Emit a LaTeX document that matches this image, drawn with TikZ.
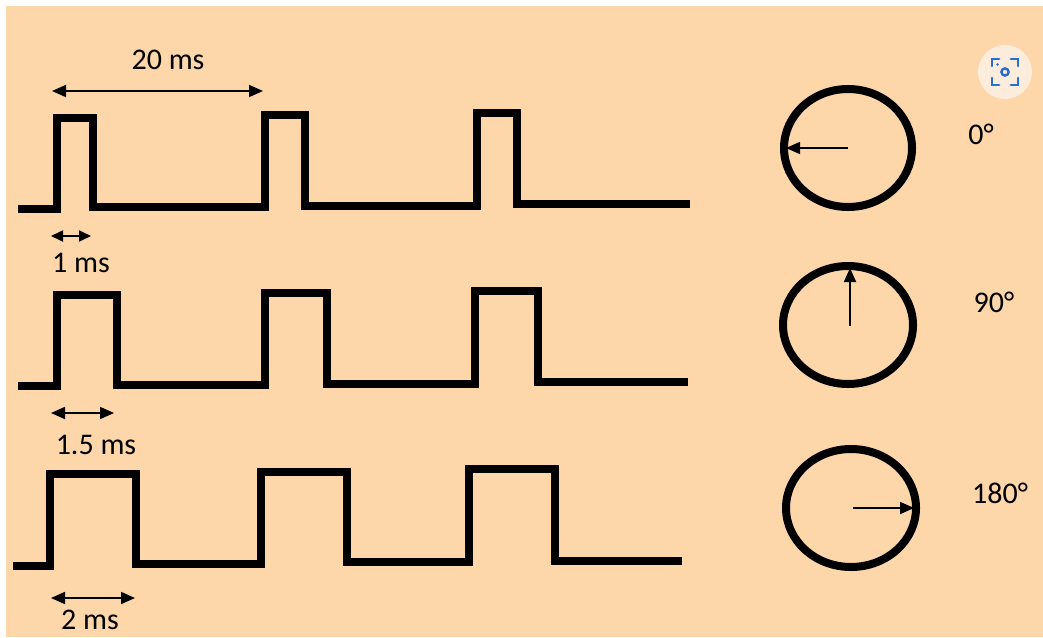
\documentclass[tikz,border=0pt]{standalone}
\usepackage{fontspec}
\setmainfont{Carlito}
\usetikzlibrary{arrows.meta}
\definecolor{peach}{RGB}{253,214,170}
\definecolor{lensbg}{RGB}{252,236,220}
\definecolor{lensblue}{RGB}{40,110,210}
\begin{document}
\begin{tikzpicture}[x=1pt,y=-1pt,
  wave/.style={line width=7.5pt,line join=miter,line cap=butt},
  dim/.style={line width=1.8pt,{Triangle[length=14pt,width=12pt]}-{Triangle[length=14pt,width=12pt]}},
  dimsmall/.style={line width=1.8pt,{Triangle[length=12pt,width=11pt]}-{Triangle[length=12pt,width=11pt]}},
  dial/.style={line width=8pt},
  pointer/.style={line width=1.8pt,-{Triangle[length=14pt,width=12pt]}},
  lbl/.style={font=\fontsize{30}{34}\selectfont,inner sep=0pt}]
\useasboundingbox (0,0) rectangle (1043,637);
\fill[white] (0,0) rectangle (1043,637);
\fill[peach] (6,6) rectangle (1043,637);

% row 1
\draw[wave] (18,209) -- (57,209) -- (57,118) -- (93,118) -- (93,207) -- (265,207) -- (265,115) -- (305,115) -- (305,206) -- (477,206) -- (477,113) -- (517,113) -- (517,204) -- (690,204);
% row 2
\draw[wave] (18,386) -- (57,386) -- (57,295) -- (117,295) -- (117,385) -- (265,385) -- (265,293) -- (327,293) -- (327,384) -- (475,384) -- (475,291) -- (538,291) -- (538,382) -- (688,382);
% row 3
\draw[wave] (13,566) -- (50,566) -- (50,474) -- (136,474) -- (136,564) -- (261,564) -- (261,472) -- (347,472) -- (347,562) -- (469,562) -- (469,469) -- (555,469) -- (555,561) -- (682,561);

% dimension arrows
\coordinate (p1a) at (52,91); \coordinate (p1b) at (263,91);
\draw[dim] (p1a) -- (p1b);
\node[lbl] (t20) at (168,60) {20 ms};

\coordinate (w1a) at (51,236); \coordinate (w1b) at (91,236);
\draw[dimsmall] (w1a) -- (w1b);
\node[lbl] (t1) at (81,263) {1 ms};

\coordinate (w2a) at (51,413); \coordinate (w2b) at (114,413);
\draw[dim] (w2a) -- (w2b);
\node[lbl] (t15) at (96,445) {1.5 ms};

\coordinate (w3a) at (51,598); \coordinate (w3b) at (135,598);
\draw[dim] (w3a) -- (w3b);
\node[lbl] (t2) at (90,620) {2 ms};

% dials
\draw[dial] (848,148) ellipse [x radius=64, y radius=59];
\coordinate (c1) at (848,148); \coordinate (e1) at (786,148);
\draw[pointer] (c1) -- (e1);
\node[lbl] (d0) at (981,134) {0°};

\draw[dial] (848,325) ellipse [x radius=65, y radius=59];
\coordinate (c2) at (850,326); \coordinate (e2) at (850,268);
\draw[pointer] (c2) -- (e2);
\node[lbl] (d90) at (994,302) {90°};

\draw[dial] (851,508) ellipse [x radius=65, y radius=59];
\coordinate (c3) at (853,508); \coordinate (e3) at (914,508);
\draw[pointer] (c3) -- (e3);
\node[lbl] (d180) at (1000,493) {180°};

% lens badge
\fill[lensbg] (1005,72) circle (27);
\begin{scope}[lensblue,line width=2.8pt,line cap=round]
\draw (992,66) -- (992,59) -- (999,59);
\draw (1011,59) -- (1018,59) -- (1018,66);
\draw (992,78) -- (992,85) -- (999,85);
\draw (1011,85) -- (1018,85) -- (1018,78);
\draw[line width=2.4pt] (1005,72) circle (3.6);
\fill (997.5,64.5) circle (1.4);
\end{scope}
\end{tikzpicture}
\end{document}
